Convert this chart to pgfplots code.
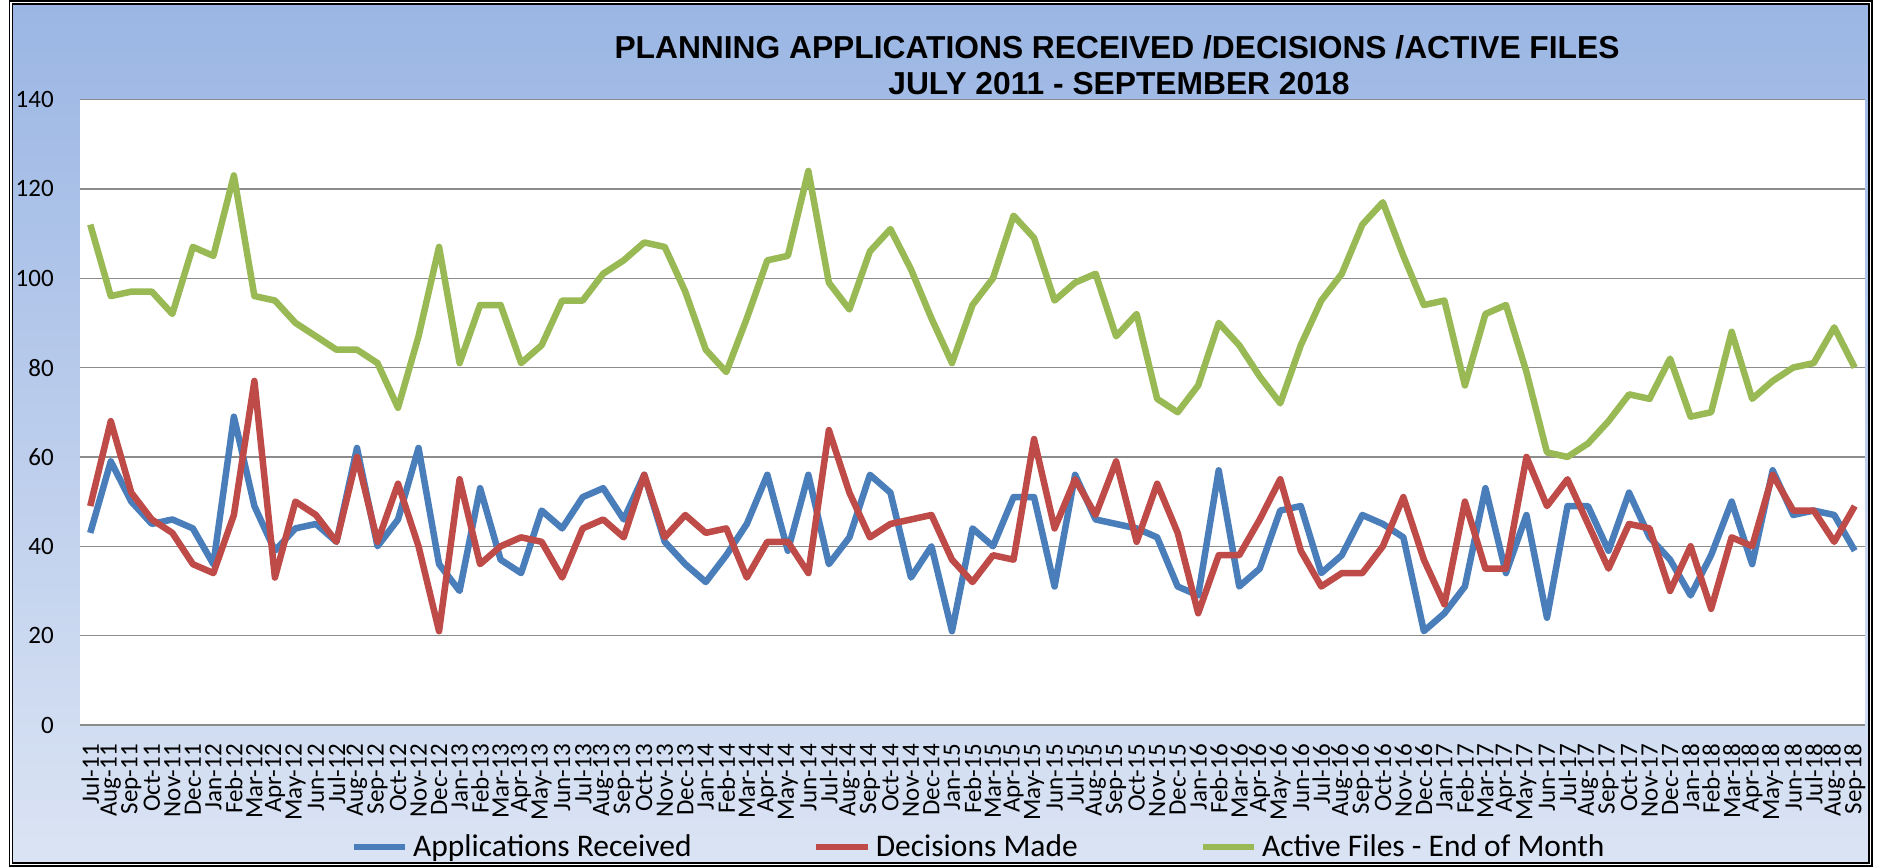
\documentclass[border=0pt]{standalone}
\usepackage{pgfplots}
\usepackage{pgfplotstable}
\pgfplotsset{compat=1.18}
\usepackage{fontspec}
\setmainfont{Carlito}
\newfontfamily\titlefont{Liberation Sans}
\definecolor{cblue}{HTML}{4A7EBB}
\definecolor{cred}{HTML}{BE4B48}
\definecolor{cgreen}{HTML}{98B954}
\definecolor{bgtop}{HTML}{9BB6E4}
\definecolor{bgbot}{HTML}{DBE4F4}
\definecolor{gridc}{HTML}{8C8C8C}

\pgfplotstableread{
idx label app dec act
0 Jul-11 43 49 112
1 Aug-11 59 68 96
2 Sep-11 50 52 97
3 Oct-11 45 46 97
4 Nov-11 46 43 92
5 Dec-11 44 36 107
6 Jan-12 36 34 105
7 Feb-12 69 47 123
8 Mar-12 49 77 96
9 Apr-12 39 33 95
10 May-12 44 50 90
11 Jun-12 45 47 87
12 Jul-12 41 41 84
13 Aug-12 62 60 84
14 Sep-12 40 41 81
15 Oct-12 46 54 71
16 Nov-12 62 40 87
17 Dec-12 36 21 107
18 Jan-13 30 55 81
19 Feb-13 53 36 94
20 Mar-13 37 40 94
21 Apr-13 34 42 81
22 May-13 48 41 85
23 Jun-13 44 33 95
24 Jul-13 51 44 95
25 Aug-13 53 46 101
26 Sep-13 46 42 104
27 Oct-13 56 56 108
28 Nov-13 41 42 107
29 Dec-13 36 47 97
30 Jan-14 32 43 84
31 Feb-14 38 44 79
32 Mar-14 45 33 91
33 Apr-14 56 41 104
34 May-14 39 41 105
35 Jun-14 56 34 124
36 Jul-14 36 66 99
37 Aug-14 42 52 93
38 Sep-14 56 42 106
39 Oct-14 52 45 111
40 Nov-14 33 46 102
41 Dec-14 40 47 91
42 Jan-15 21 37 81
43 Feb-15 44 32 94
44 Mar-15 40 38 100
45 Apr-15 51 37 114
46 May-15 51 64 109
47 Jun-15 31 44 95
48 Jul-15 56 55 99
49 Aug-15 46 47 101
50 Sep-15 45 59 87
51 Oct-15 44 41 92
52 Nov-15 42 54 73
53 Dec-15 31 43 70
54 Jan-16 29 25 76
55 Feb-16 57 38 90
56 Mar-16 31 38 85
57 Apr-16 35 46 78
58 May-16 48 55 72
59 Jun-16 49 39 85
60 Jul-16 34 31 95
61 Aug-16 38 34 101
62 Sep-16 47 34 112
63 Oct-16 45 40 117
64 Nov-16 42 51 105
65 Dec-16 21 37 94
66 Jan-17 25 27 95
67 Feb-17 31 50 76
68 Mar-17 53 35 92
69 Apr-17 34 35 94
70 May-17 47 60 79
71 Jun-17 24 49 61
72 Jul-17 49 55 60
73 Aug-17 49 45 63
74 Sep-17 39 35 68
75 Oct-17 52 45 74
76 Nov-17 42 44 73
77 Dec-17 37 30 82
78 Jan-18 29 40 69
79 Feb-18 38 26 70
80 Mar-18 50 42 88
81 Apr-18 36 40 73
82 May-18 57 56 77
83 Jun-18 47 48 80
84 Jul-18 48 48 81
85 Aug-18 47 41 89
86 Sep-18 39 49 80
}\datatable

\begin{document}
\begin{tikzpicture}
\path[fill=white] (0,0) rectangle (751.6pt,346.8pt);
\shade[top color=bgtop, bottom color=bgbot] (4.3pt,1pt) rectangle (748.2pt,345.8pt);
\begin{axis}[
  at={(32pt,56.8pt)}, anchor=south west,
  scale only axis, width=714pt, height=250.2pt,
  xmin=-0.5, xmax=86.5, ymin=0, ymax=140,
  ytick={0,20,...,140},
  xtick=data,
  xticklabels from table={\datatable}{label},
  axis line style={draw=none},
  major tick length=0pt,
  ymajorgrids,
  grid style={gridc, line width=0.55pt},
  axis background/.style={fill=white},
  tick label style={font=\fontsize{10pt}{12pt}\selectfont},
  /pgf/number format/assume math mode=true,
  xticklabel style={rotate=90, anchor=east, inner xsep=7.5pt},
  yticklabel style={anchor=east, inner xsep=10.3pt},
  legend style={at={(0.5042,-0.195)}, anchor=center, draw=none, fill=none,
    font=\fontsize{12.6pt}{15pt}\selectfont,
    /tikz/every even column/.append style={column sep=46.6pt}},
  legend columns=3,
  legend image code/.code={\draw[#1] (0pt,0pt) -- (20.5pt,0pt);},
  every axis plot/.append style={line width=2.6pt, line join=round, no marks},
]
\addplot[cblue] table[x=idx, y=app] {\datatable};
\addlegendentry{Applications Received}
\addplot[cred] table[x=idx, y=dec] {\datatable};
\addlegendentry{Decisions Made}
\addplot[cgreen] table[x=idx, y=act] {\datatable};
\addlegendentry{Active Files - End of Month}
\end{axis}
\node[anchor=base, font=\titlefont\bfseries\fontsize{12.7pt}{15pt}\selectfont] at (446.8pt,323.2pt) {PLANNING APPLICATIONS RECEIVED /DECISIONS /ACTIVE FILES};
\node[anchor=base, font=\titlefont\bfseries\fontsize{12.7pt}{15pt}\selectfont] at (447.6pt,308.8pt) {JULY 2011 - SEPTEMBER 2018};
\draw[double=white, double distance=0.7pt, line width=0.5pt] (4.3pt,1pt) rectangle (748.2pt,345.8pt);
\pgfresetboundingbox
\useasboundingbox (0,0) rectangle (751.6pt,346.8pt);
\end{tikzpicture}
\end{document}
